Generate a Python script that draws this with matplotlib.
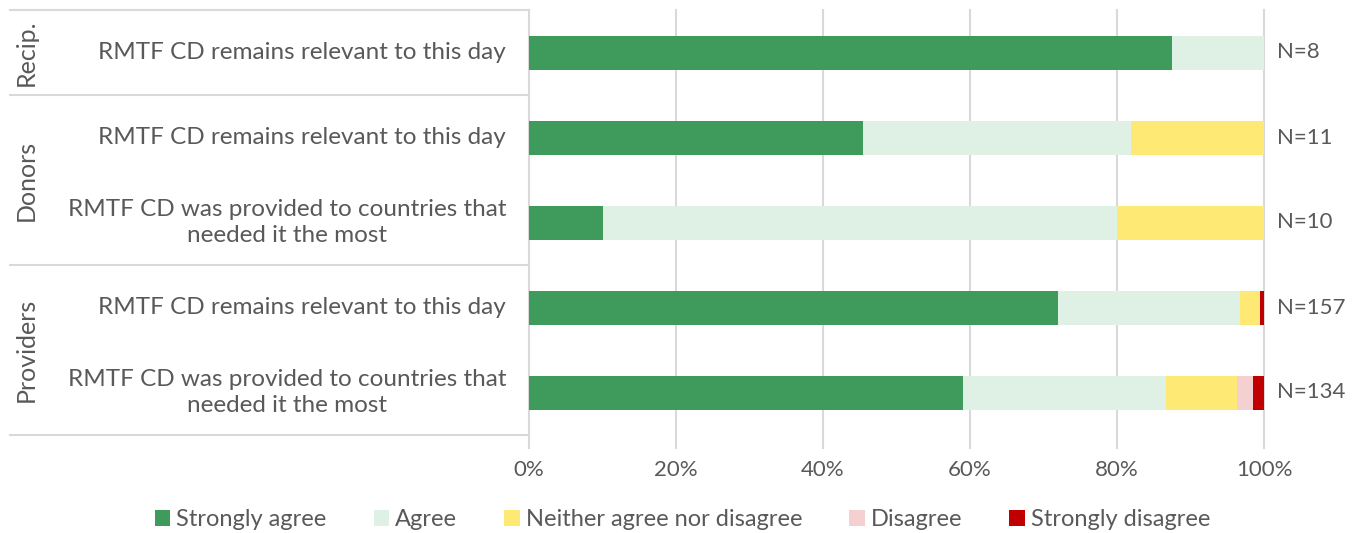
import matplotlib.pyplot as plt
import numpy as np
from matplotlib.lines import Line2D

plt.rcParams['font.family'] = ['Lato', 'DejaVu Sans']

groups = ["Recip.", "Donors", "Providers"]
group_rows = [1, 2, 2]
questions = [
    "RMTF CD remains relevant to this day",
    "RMTF CD remains relevant to this day",
    "RMTF CD was provided to countries that\nneeded it the most",
    "RMTF CD remains relevant to this day",
    "RMTF CD was provided to countries that\nneeded it the most",
]
n_resp = [8, 11, 10, 157, 134]
categories = ["Strongly agree", "Agree", "Neither agree nor disagree",
              "Disagree", "Strongly disagree"]
# shares in %, one list per answer category
strongly_agree = [87.5, 45.5, 10.0, 72.0, 59.0]
agree = [12.5, 36.4, 70.0, 24.8, 27.6]
neither = [0.0, 18.1, 20.0, 2.6, 9.7]
disagree = [0.0, 0.0, 0.0, 0.0, 2.2]
strongly_disagree = [0.0, 0.0, 0.0, 0.6, 1.5]
xticks = [0, 20, 40, 60, 80, 100]

colors = ["#3e9b5b", "#dff0e5", "#fde973", "#f5d0d0", "#c00000"]
txt = "#595959"
W, H = 1365, 533

fig = plt.figure(figsize=(W / 100, H / 100), dpi=100)
ax = fig.add_axes([529 / W, 1 - 435 / H, 735 / W, 425 / H])

y = np.arange(len(questions))
left = np.zeros(len(questions))
series = [strongly_agree, agree, neither, disagree, strongly_disagree]
for vals, c, name in zip(series, colors, categories):
    ax.barh(y, vals, left=left, height=0.4, color=c, label=name, zorder=2)
    left += np.array(vals)

ax.set_xlim(0, 100)
ax.set_ylim(len(questions) - 0.5, -0.5)
ax.set_yticks([])
ax.set_xticks(xticks)
ax.set_xticklabels([f"{t}%" for t in xticks], color=txt, fontsize=16)
ax.tick_params(axis="x", length=0, pad=18)
for t in xticks:
    ax.axvline(t, ymin=-0.03, ymax=1, color="#d9d9d9", lw=1.5, zorder=1, clip_on=False)
for s in ax.spines.values():
    s.set_visible(False)
ax.axvline(0, color="#d9d9d9", lw=1.5, zorder=1)

for yi, n in zip(y, n_resp):
    ax.text(101.8, yi, f"N={n}", va="center", ha="left", fontsize=16, color=txt)

# category labels and group labels on the left
for yi, q in zip(y, questions):
    fig.text(506 / W, 1 - (10 + 85 * yi + 42.5) / H, q, ha="right", va="center",
             multialignment="center", fontsize=17.5, color=txt, linespacing=1.3)

bounds = [0]
for r in group_rows:
    bounds.append(bounds[-1] + r)
for b in bounds:
    yy = 1 - (10 + 85 * b) / H
    fig.add_artist(Line2D([10 / W, 529 / W], [yy, yy], color="#d9d9d9", lw=1.5))
for g, b0, b1 in zip(groups, bounds[:-1], bounds[1:]):
    yc = 1 - (10 + 85 * (b0 + b1) / 2) / H
    fig.text(26 / W, yc, g, rotation=90, ha="center", va="center", fontsize=18, color=txt)

fig.legend(loc="lower center", bbox_to_anchor=(0.5, -0.035), ncol=5, frameon=False,
           fontsize=17, labelcolor=txt, handlelength=0.65, handleheight=0.65,
           handletextpad=0.25, columnspacing=2.0)

fig.savefig("out.png", dpi=100)
